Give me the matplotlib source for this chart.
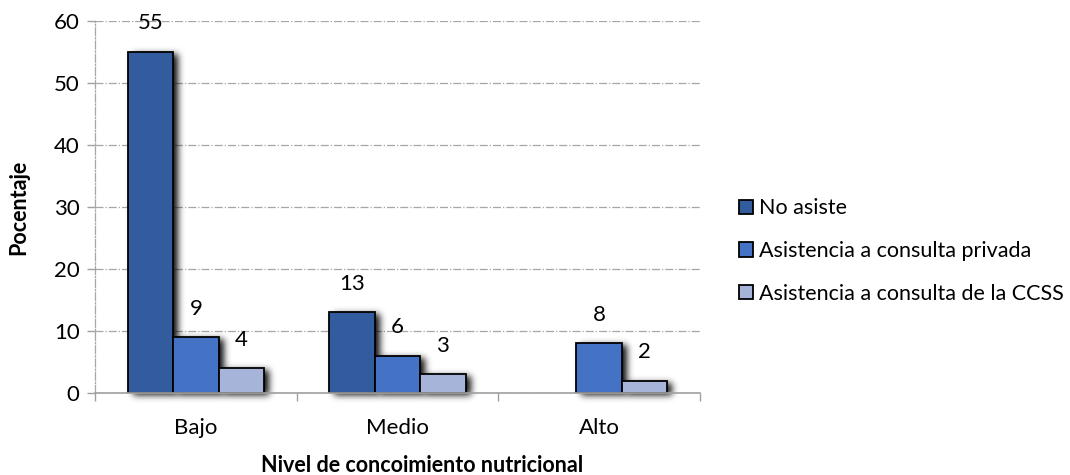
import matplotlib
matplotlib.use("Agg")
import matplotlib.pyplot as plt
import numpy as np

categories = ["Bajo", "Medio", "Alto"]
series_names = ["No asiste", "Asistencia a consulta privada", "Asistencia a consulta de la CCSS"]
no_asiste = [55, 13, None]
privada = [9, 6, 8]
ccss = [4, 3, 2]
colors = ["#335C9F", "#4472C4", "#A6B4DA"]

plt.rcParams["font.family"] = ["Lato", "DejaVu Sans"]


def _blur1d(a, sigma, axis):
    r = int(3 * sigma)
    k = np.exp(-0.5 * (np.arange(-r, r + 1) / sigma) ** 2)
    k /= k.sum()
    return np.apply_along_axis(lambda v: np.convolve(v, k, mode="same"), axis, a)


def soft_shadow(dx=5, dy=2, sigma=3.5, alpha=0.95):
    """Agg filter: blurred dark copy of the artist, shifted right/down (pixels)."""
    def _filter(im, dpi):
        pad = int(3 * sigma) + max(abs(dx), abs(dy)) + 2
        a = np.pad(im[..., 3], pad, mode="constant")
        a = np.roll(a, dx, axis=1)
        a = np.roll(a, dy, axis=0)
        a = _blur1d(_blur1d(a, sigma, 0), sigma, 1)
        out = np.zeros(a.shape + (4,), dtype=float)
        out[..., 3] = np.clip(a * alpha, 0, 1)
        return out, -pad, -pad
    return _filter


fig = plt.figure(figsize=(10.7, 4.75), dpi=100)
ax = fig.add_axes([0.0888, 0.1726, 0.5654, 0.7832])

x = np.arange(len(categories))
width = 0.225
offsets = [-width, 0, width]

for vals, off, col, name in zip([no_asiste, privada, ccss], offsets, colors, series_names):
    xs = [xi + off for xi, v in zip(x, vals) if v is not None]
    ys = [v for v in vals if v is not None]
    # shadow layer beneath every bar
    shade = ax.bar(xs, ys, width=width, color="black", linewidth=0, zorder=2)
    for s in shade:
        s.set_agg_filter(soft_shadow())
    ax.bar(xs, ys, width=width, color=col, edgecolor="black", linewidth=1.3,
           label=name, zorder=3)
    for xi, v in zip(xs, ys):
        ax.text(xi, v + 3.0, f"{v}", ha="center", va="bottom", fontsize=16, color="black", zorder=4)

ax.set_xlim(-0.5, 2.5)
ax.set_ylim(0, 60)
ax.set_yticks(range(0, 61, 10))
ax.set_xticks(x)
ax.set_xticklabels(categories)
ax.set_xticks([-0.5, 0.5, 1.5, 2.5], minor=True)
ax.tick_params(axis="x", which="major", length=0, labelsize=16, pad=18)
ax.tick_params(axis="x", which="minor", length=6, color="#A0A0A0", width=1)
ax.tick_params(axis="y", length=6, color="#A0A0A0", labelsize=16, width=1, pad=5)

ax.grid(axis="y", color="#A6A6A6", linestyle="-.", linewidth=0.9, zorder=0)
for side in ["top", "right"]:
    ax.spines[side].set_visible(False)
ax.spines["left"].set_linestyle("-.")
ax.spines["left"].set_color("#A6A6A6")
ax.spines["left"].set_linewidth(0.9)
ax.spines["bottom"].set_color("#A0A0A0")
ax.spines["bottom"].set_linewidth(1.2)
ax.spines["bottom"].set_zorder(5)

ax.set_ylabel("Pocentaje", fontsize=15.5, fontweight="bold", labelpad=18)
ax.set_xlabel("Nivel de concoimiento nutricional", fontsize=15.5, fontweight="bold",
              va="center")
ax.xaxis.set_label_coords(0.54, -0.194)

handles, labels = ax.get_legend_handles_labels()
fig.legend(handles, labels, loc="center left", bbox_to_anchor=(0.683, 0.4716), frameon=False,
           fontsize=15.5, labelspacing=1.05, handlelength=0.65, handleheight=0.65,
           handletextpad=0.25, borderaxespad=0)

fig.savefig("out.png", dpi=100)
